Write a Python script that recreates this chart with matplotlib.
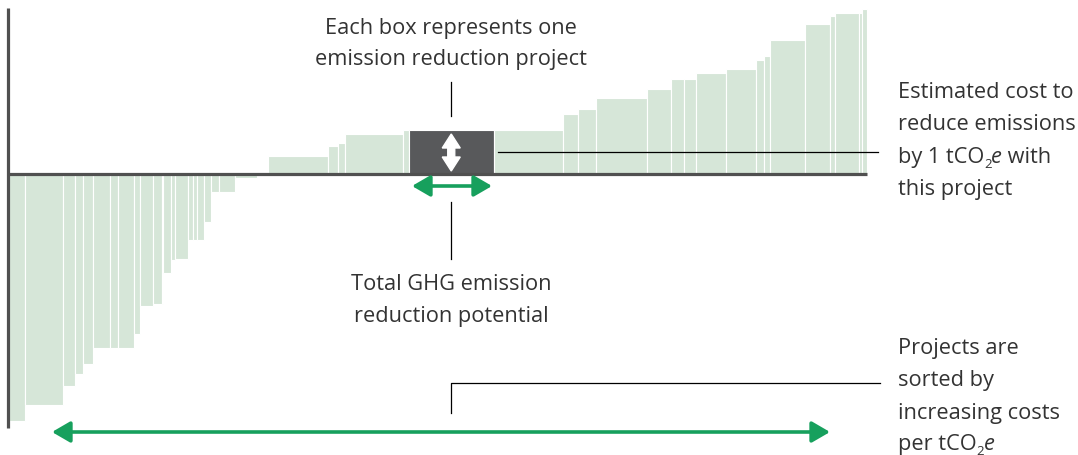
import numpy as np
import matplotlib
matplotlib.use('Agg')
import matplotlib.pyplot as plt
from matplotlib.patches import Polygon

plt.rcParams['font.family'] = ['Open Sans', 'DejaVu Sans']

# projects sorted by cost: reduction potential (width) and cost per tCO2e
widths = [16, 38, 12, 7.5, 10, 17, 8, 16.5, 6, 13, 8.5, 1.3, 7.7, 4, 13.5,
          4.5, 4, 7, 7.5, 7.5, 16, 22, 11,
          60, 10, 7, 58, 6, 85.5, 68.5, 15.5, 18, 51, 24, 12.5, 12, 30, 30,
          8, 6, 35, 25, 5.5, 23.5, 3.5, 4.5]
costs = [-247, -231, -212, -200, -190, -174, -174, -174, -160, -132, -130, -130,
         -99, -86, -85, -66, -66, -66, -48, -18, -18, -4, 0,
         18, 28, 31, 40, 44, 44, 44, 60, 65, 76, 85, 95, 95, 101, 105,
         114, 118, 134, 150, 158, 161, 161, 165]
highlight = 28

bar_col = '#d6e6d8'
dark = '#58595b'
axis_col = '#505050'
green = '#17a05d'
txt_col = '#333333'
FS = 15.7

x0 = 9
lefts = x0 + np.concatenate([[0], np.cumsum(widths)[:-1]])
colors = [dark if i == highlight else bar_col for i in range(len(costs))]

fig = plt.figure(figsize=(10.78, 4.56), dpi=100)
ax = fig.add_axes([0, 0, 1, 1])
ax.set_xlim(0, 1078)
ax.set_ylim(-281, 175)
ax.axis('off')
renderer = fig.canvas.get_renderer()

ax.bar(lefts, costs, width=widths, align='edge', color=colors,
       edgecolor='white', linewidth=0.8, zorder=2)

x_end = lefts[-1] + widths[-1]
ax.plot([7.5, x_end], [0, 0], color=axis_col, lw=2.3, zorder=3, solid_capstyle='butt')
ax.plot([7.5, 7.5], [166, -254], color=axis_col, lw=2.3, zorder=3, solid_capstyle='butt')

# highlighted project
hx0 = lefts[highlight]
hw = widths[highlight]
hc = costs[highlight]
cx = hx0 + hw / 2

# white up/down icon inside the box
icon = [(cx, 40), (cx + 9, 26), (cx + 3.5, 26), (cx + 3.5, 17), (cx + 9, 17),
        (cx, 3), (cx - 9, 17), (cx - 3.5, 17), (cx - 3.5, 26), (cx - 9, 26)]
ax.add_patch(Polygon(icon, closed=True, color='white', zorder=4))

def line(xs, ys):
    ax.plot(xs, ys, color='black', lw=0.9, zorder=5)

def put(x, y, parts):
    # parts: list of (text, kind) with kind 'n', 'sub' or 'it'
    for t, kind in parts:
        size = FS * 0.6 if kind == 'sub' else FS
        yy = y - 5 if kind == 'sub' else y
        style = 'italic' if kind == 'it' else 'normal'
        tx = ax.text(x, yy, t, ha='left', va='baseline', fontsize=size,
                     style=style, color=txt_col)
        bb = tx.get_window_extent(renderer=renderer)
        x = ax.transData.inverted().transform((bb.x1, bb.y0))[0]
        if kind == 'sub':
            x -= 0.5

def lines_of_text(x, ys, texts, ha):
    for y, t in zip(ys, texts):
        if isinstance(t, list):
            put(x, y, t)
        else:
            ax.text(x, y, t, ha=ha, va='baseline', fontsize=FS, color=txt_col)

def arrow(xa, xb, y):
    ax.annotate('', xy=(xa, y), xytext=(xb, y),
                arrowprops=dict(arrowstyle='<|-|>,head_length=0.55,head_width=0.32',
                                color=green, lw=2.6, mutation_scale=20,
                                shrinkA=0, shrinkB=0), zorder=5)

# top annotation
line([cx, cx], [hc + 14, hc + 48])
lines_of_text(cx, [141, 110], ['Each box represents one', 'emission reduction project'], 'center')

# cost annotation
line([hx0 + hw + 4, 878], [hc / 2, hc / 2])
lines_of_text(898, [77, 44.5, 12, -20.5],
              ['Estimated cost to', 'reduce emissions',
               [('by 1 tCO', 'n'), ('2', 'sub'), ('e', 'it'), (' with', 'n')],
               'this project'], 'left')

# potential annotation
arrow(hx0 + 3.5, hx0 + hw - 2, -12)
line([cx, cx], [-28, -85])
lines_of_text(cx, [-115, -147], ['Total GHG emission', 'reduction potential'], 'center')

# sorting annotation
arrow(52, 830, -258)
line([451, 451, 880], [-239, -209, -209])
lines_of_text(898, [-179, -211.5, -244, -275],
              ['Projects are', 'sorted by', 'increasing costs',
               [('per tCO', 'n'), ('2', 'sub'), ('e', 'it')]], 'left')

fig.savefig('out.png', dpi=100)
